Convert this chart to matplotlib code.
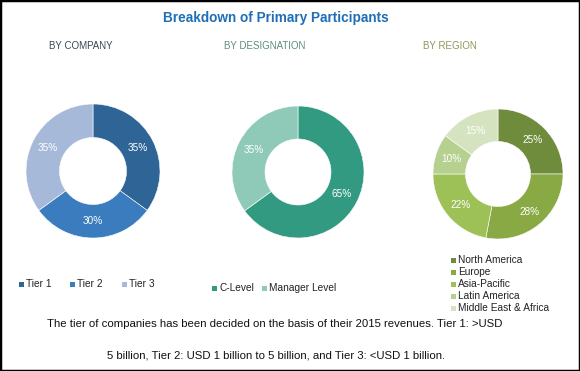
import matplotlib
matplotlib.use("Agg")
import matplotlib.pyplot as plt
from matplotlib.patches import Rectangle
import numpy as np

W, H = 580, 371

title = "Breakdown of Primary Participants"
section_titles = ["BY COMPANY", "BY DESIGNATION", "BY REGION"]

company_labels = ["Tier 1", "Tier 2", "Tier 3"]
company_values = [35, 30, 35]
company_colors = ["#2F6497", "#3A7CBE", "#A6B9D9"]

designation_labels = ["C-Level", "Manager Level"]
designation_values = [65, 35]
designation_colors = ["#339A82", "#8FCAB9"]

region_labels = ["North America", "Europe", "Asia-Pacific", "Latin America", "Middle East & Africa"]
region_values = [25, 28, 22, 10, 15]
region_colors = ["#6F8C3C", "#89A944", "#9DC057", "#B6D08F", "#D6E3C0"]

footnote1 = "The tier of companies has been decided on the basis of their 2015 revenues. Tier 1: >USD"
footnote2 = "5 billion, Tier 2: USD 1 billion to 5 billion, and Tier 3: <USD 1 billion."

narrow = ["Liberation Sans Narrow", "Liberation Sans", "DejaVu Sans"]

fig = plt.figure(figsize=(W / 100, H / 100), dpi=100)
fig.patch.set_facecolor("white")

def px(x, y):
    return x / W, 1 - y / H

def donut(cx, cy, r, values, colors):
    ax = fig.add_axes([(cx - r) / W, 1 - (cy + r) / H, 2 * r / W, 2 * r / H])
    ax.pie(values, colors=colors, startangle=90, counterclock=False,
           radius=1.0, wedgeprops=dict(width=0.5, edgecolor="white", linewidth=0.4))
    total = sum(values)
    cum = 0
    for v in values:
        mid = 90 - (cum + v / 2) / total * 360
        cum += v
        rr = 0.75
        ax.text(rr * np.cos(np.radians(mid)), rr * np.sin(np.radians(mid)), f"{v}%",
                ha="center", va="center", color="white", fontsize=7.2, family=narrow)
    ax.set_xlim(-1, 1)
    ax.set_ylim(-1, 1)
    ax.set_aspect("equal")
    ax.axis("off")
    return ax

donut(93, 171, 67, company_values, company_colors)
donut(298, 172, 66, designation_values, designation_colors)
donut(498, 174, 65, region_values, region_colors)

fig.text(*px(276, 18), title, ha="center", va="center", color="#1E6FB7",
         fontsize=9.8, fontweight="bold", family=["Liberation Sans", "DejaVu Sans"])

sec_colors = ["#3B4756", "#5E8C83", "#8B9A5B"]
sec_x = [81, 265, 450]
for t, x, c in zip(section_titles, sec_x, sec_colors):
    fig.text(*px(x, 46), t, ha="center", va="center", color=c, fontsize=7, family=narrow)

def legend_item(x, y, label, color):
    fig.patches.append(Rectangle(px(x, y + 3), 5 / W, 5 / H, transform=fig.transFigure,
                                 facecolor=color, edgecolor="none"))
    fig.text(*px(x + 7, y), label, ha="left", va="center", color="#222222", fontsize=7.3, family=narrow)

for lab, col, x in zip(company_labels, company_colors, [19, 70, 122]):
    legend_item(x, 284, lab, col)
for lab, col, x in zip(designation_labels, designation_colors, [212, 262]):
    legend_item(x, 288, lab, col)
for i, (lab, col) in enumerate(zip(region_labels, region_colors)):
    legend_item(451, 260 + 12 * i, lab, col)

fig.text(*px(275, 324), footnote1, ha="center", va="center", color="#111111", fontsize=8.2, family=narrow)
fig.text(*px(276, 356), footnote2, ha="center", va="center", color="#111111", fontsize=8.2, family=narrow)

fig.patches.append(Rectangle((0, 0), 1, 1, transform=fig.transFigure, fill=False,
                             edgecolor="black", linewidth=2.5))

fig.savefig("out.png", dpi=100, facecolor="white")
